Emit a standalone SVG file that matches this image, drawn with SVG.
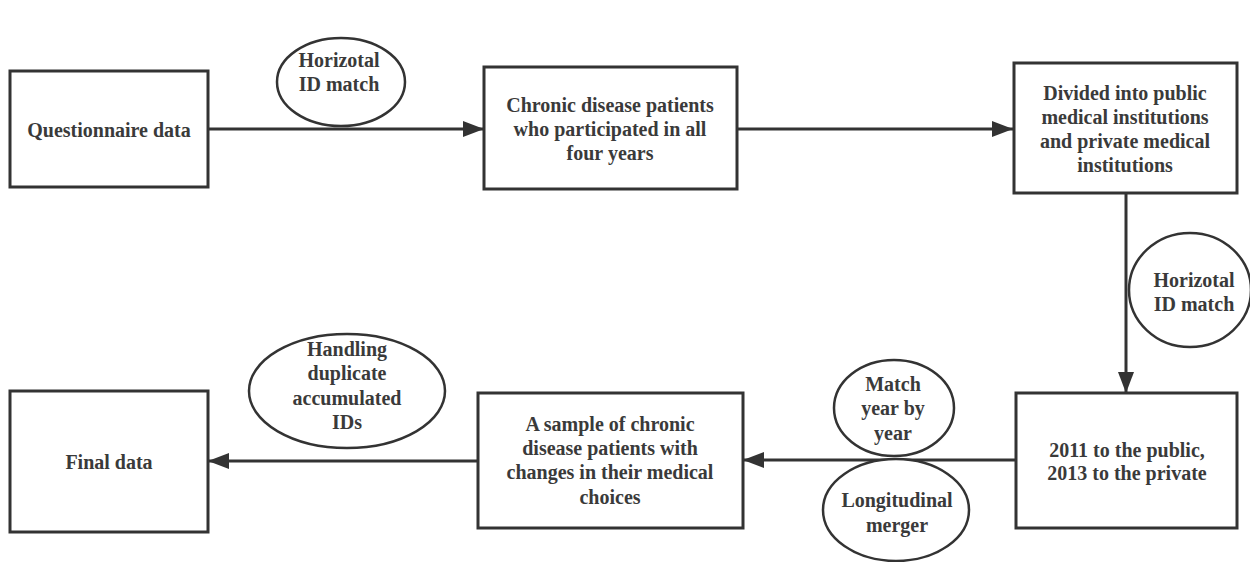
<svg xmlns="http://www.w3.org/2000/svg" width="1250" height="562" viewBox="0 0 1250 562">
<style>
.box{fill:#fff;stroke:#333;stroke-width:3}
.ell{fill:#fff;stroke:#333;stroke-width:2.5}
.lbl{font-family:"Liberation Serif","Times New Roman",serif;font-weight:bold;font-size:20px;fill:#3a3a3a;text-anchor:middle}
.con{stroke:#333;stroke-width:3;fill:none;marker-end:url(#ah)}
</style>
<defs>
<marker id="ah" markerUnits="userSpaceOnUse" markerWidth="22" markerHeight="18" viewBox="0 0 22 18" refX="21" refY="9" orient="auto">
<path d="M0,1 L21,9 L0,17 Z" fill="#333"/>
</marker>
</defs>
<rect width="1250" height="562" fill="#fff"/>
<g id="connectors">
<line class="con" x1="208" y1="129" x2="484" y2="129"/>
<line class="con" x1="737" y1="129" x2="1013" y2="129"/>
<line class="con" x1="1126" y1="193" x2="1126" y2="393"/>
<line class="con" x1="1016" y1="460" x2="743" y2="460"/>
<line class="con" x1="478" y1="461" x2="208" y2="461"/>
</g>
<g id="n-questionnaire">
<rect class="box" x="10" y="71" width="198" height="116"/>
<text class="lbl" x="109" y="137">Questionnaire data</text>
</g>
<g id="e-match1">
<ellipse class="ell" cx="341" cy="82" rx="64" ry="44"/>
<text class="lbl" x="339" y="67">Horizotal</text>
<text class="lbl" x="339" y="91">ID match</text>
</g>
<g id="n-chronic">
<rect class="box" x="484" y="67" width="253" height="122"/>
<text class="lbl" x="610" y="112">Chronic disease patients</text>
<text class="lbl" x="610" y="136">who participated in all</text>
<text class="lbl" x="610" y="160">four years</text>
</g>
<g id="n-divided">
<rect class="box" x="1014" y="63" width="223" height="130"/>
<text class="lbl" x="1125" y="100">Divided into public</text>
<text class="lbl" x="1125" y="124">medical institutions</text>
<text class="lbl" x="1125" y="148">and private medical</text>
<text class="lbl" x="1125" y="172">institutions</text>
</g>
<g id="e-match2">
<ellipse class="ell" cx="1190" cy="290" rx="61" ry="57"/>
<text class="lbl" x="1194" y="287">Horizotal</text>
<text class="lbl" x="1194" y="311">ID match</text>
</g>
<g id="n-years">
<rect class="box" x="1016" y="393" width="221" height="135"/>
<text class="lbl" x="1127" y="457">2011 to the public,</text>
<text class="lbl" x="1127" y="480">2013 to the private</text>
</g>
<g id="e-matchyear">
<ellipse class="ell" cx="894" cy="408" rx="60" ry="48"/>
<text class="lbl" x="893" y="391">Match</text>
<text class="lbl" x="893" y="415">year by</text>
<text class="lbl" x="893" y="440">year</text>
</g>
<g id="e-longitudinal">
<ellipse class="ell" cx="896" cy="510" rx="73" ry="51"/>
<text class="lbl" x="897" y="507">Longitudinal</text>
<text class="lbl" x="897" y="532">merger</text>
</g>
<g id="n-sample">
<rect class="box" x="478" y="393" width="265" height="135"/>
<text class="lbl" x="610" y="431">A sample of chronic</text>
<text class="lbl" x="610" y="455">disease patients with</text>
<text class="lbl" x="610" y="479">changes in their medical</text>
<text class="lbl" x="610" y="504">choices</text>
</g>
<g id="e-handling">
<ellipse class="ell" cx="347" cy="391" rx="98" ry="57"/>
<text class="lbl" x="347" y="356">Handling</text>
<text class="lbl" x="347" y="380">duplicate</text>
<text class="lbl" x="347" y="405">accumulated</text>
<text class="lbl" x="347" y="429">IDs</text>
</g>
<g id="n-final">
<rect class="box" x="10" y="391" width="198" height="141"/>
<text class="lbl" x="109" y="469">Final data</text>
</g>
</svg>
